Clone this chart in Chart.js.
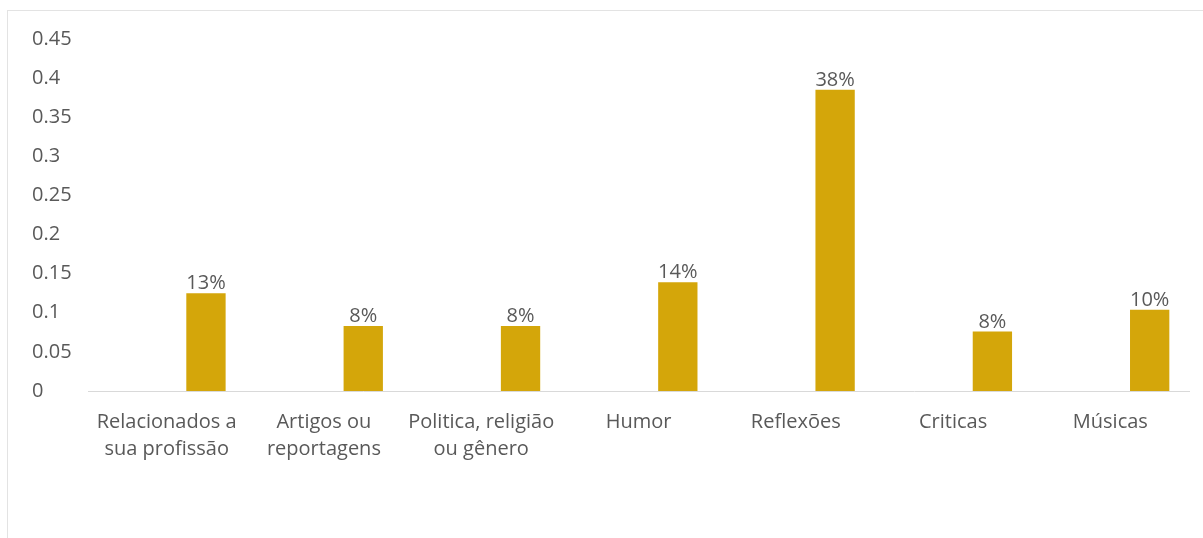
<!DOCTYPE html>
<html>
<head>
<meta charset="utf-8">
<script src="https://cdn.jsdelivr.net/npm/chart.js@4.4.1/dist/chart.umd.min.js"></script>
<style>
  html, body { margin: 0; padding: 0; background: #ffffff; overflow: hidden; }
  #wrap { position: relative; width: 1203px; height: 538px; }
  #frame { position: absolute; left: 7px; top: 10px; width: 1300px; height: 700px;
           border-left: 1px solid #e3e3e3; border-top: 1px solid #e3e3e3; pointer-events: none; }
  canvas { position: absolute; left: 0; top: 0; }
</style>
</head>
<body>
<div id="wrap">
  <canvas id="c" width="1203" height="538"></canvas>
  <div id="frame"></div>
</div>
<script>
const categories = [
  ['Relacionados a', 'sua profissão'],
  ['Artigos ou', 'reportagens'],
  ['Politica, religião', 'ou gênero'],
  'Humor',
  'Reflexões',
  'Criticas',
  'Músicas'
];
const spacerValues = [null, null, null, null, null, null, null];
const shareValues = [0.125, 0.083, 0.083, 0.139, 0.385, 0.076, 0.104];
const shareLabels = ['13%', '8%', '8%', '14%', '38%', '8%', '10%'];
const yTickLabels = ['0', '0.05', '0.1', '0.15', '0.2', '0.25', '0.3', '0.35', '0.4', '0.45'];

const FONT = '"Open Sans", "Noto Sans", sans-serif';
const TXT = '#595959';
const FS = 20;

const dataLabelPlugin = {
  id: 'dataLabels',
  afterDatasetsDraw(chart) {
    const ctx = chart.ctx;
    const meta = chart.getDatasetMeta(1);
    ctx.save();
    ctx.font = FS + 'px ' + FONT;
    ctx.fillStyle = TXT;
    ctx.textAlign = 'center';
    ctx.textBaseline = 'alphabetic';
    meta.data.forEach((bar, i) => {
      ctx.fillText(shareLabels[i], bar.x, bar.y - 4);
    });
    ctx.restore();
  }
};

new Chart(document.getElementById('c'), {
  type: 'bar',
  data: {
    labels: categories,
    datasets: [
      { label: 'spacer', data: spacerValues, backgroundColor: 'rgba(0,0,0,0)' },
      { label: 'Share', data: shareValues, backgroundColor: '#D4A60A', borderWidth: 0 }
    ]
  },
  options: {
    responsive: false,
    animation: false,
    devicePixelRatio: 1,
    layout: { padding: { left: 32, top: 39, right: 14, bottom: 0 } },
    plugins: { legend: { display: false }, tooltip: { enabled: false } },
    datasets: { bar: { categoryPercentage: 1.0, barPercentage: 0.5 } },
    scales: {
      x: {
        grid: { display: false, drawTicks: false, tickLength: 0 },
        border: { display: true, color: '#d9d9d9', width: 1 },
        ticks: {
          color: TXT,
          font: { family: FONT, size: FS, lineHeight: 1.35 },
          padding: 18,
          maxRotation: 0,
          autoSkip: false
        },
        afterFit(scale) { scale.height = 147; }
      },
      y: {
        min: 0,
        max: 0.45,
        grid: { display: false, drawTicks: false, tickLength: 0 },
        border: { display: false },
        ticks: {
          stepSize: 0.05,
          color: TXT,
          crossAlign: 'far',
          font: { family: FONT, size: FS },
          callback: (value, index) => yTickLabels[index]
        },
        afterFit(scale) { scale.width = 56; }
      }
    }
  },
  plugins: [dataLabelPlugin]
});
</script>
</body>
</html>
